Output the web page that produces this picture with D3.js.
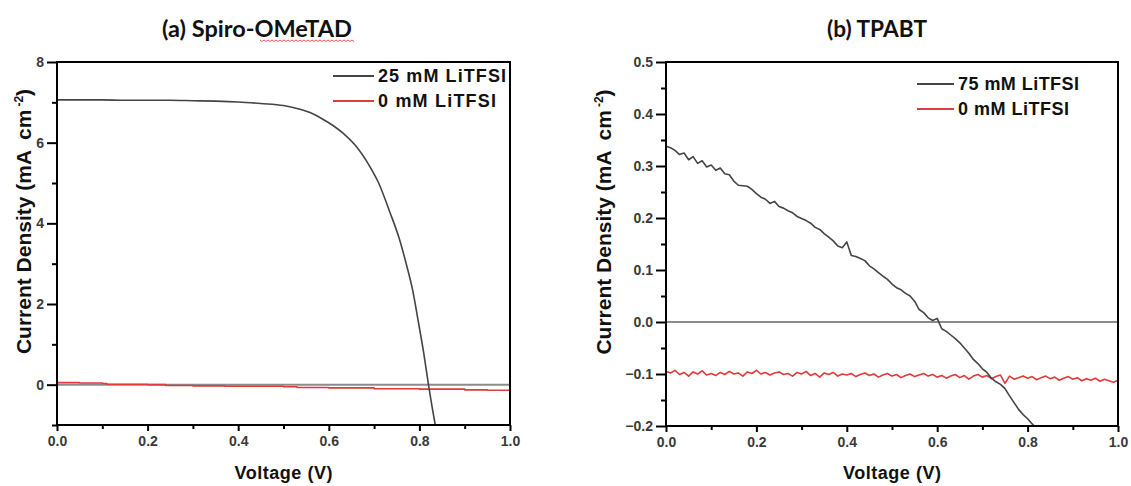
<!DOCTYPE html>
<html>
<head>
<meta charset="utf-8">
<script src="https://cdn.jsdelivr.net/npm/d3@7"></script>
<style>
  body { margin: 0; background: #fff; }
  svg { display: block; }
</style>
</head>
<body>
<svg id="chart" width="1131" height="486"></svg>
<script>
// (a) Spiro-OMeTAD
let spiroVolts25 = [0, 0.05, 0.1, 0.15, 0.2, 0.25, 0.3, 0.35, 0.4, 0.45, 0.5, 0.536, 0.56, 0.584, 0.61, 0.632,
  0.658, 0.691, 0.71, 0.735, 0.755, 0.772, 0.785, 0.797, 0.81, 0.82, 0.828, 0.835];
let spiro25 = [7.06, 7.06, 7.06, 7.05, 7.05, 7.05, 7.04, 7.03, 7.01, 6.97, 6.92, 6.83, 6.74, 6.6, 6.42, 6.23,
  5.94, 5.4, 5.0, 4.27, 3.64, 2.95, 2.35, 1.6, 0.75, 0.0, -0.55, -1.0];
let spiroVolts0 = [0, 0.05, 0.1, 0.11, 0.2, 0.24, 0.3, 0.37, 0.4, 0.5, 0.53, 0.6, 0.7, 0.75, 0.8, 0.9, 0.95, 1.0];
let spiro0 = [0.05, 0.04, 0.03, 0.01, 0.0, -0.02, -0.03, -0.04, -0.04, -0.05, -0.07, -0.08, -0.1, -0.1, -0.11,
  -0.13, -0.14, -0.14];

// (b) TPABT, one voltage list shared by both sweeps
let tpabtVolts = [0.00, 0.01, 0.02, 0.03, 0.04, 0.05, 0.06, 0.07, 0.08, 0.09,
  0.10, 0.11, 0.12, 0.13, 0.14, 0.15, 0.16, 0.17, 0.18, 0.19,
  0.20, 0.21, 0.22, 0.23, 0.24, 0.25, 0.26, 0.27, 0.28, 0.29,
  0.30, 0.31, 0.32, 0.33, 0.34, 0.35, 0.36, 0.37, 0.38, 0.39,
  0.40, 0.41, 0.42, 0.43, 0.44, 0.45, 0.46, 0.47, 0.48, 0.49,
  0.50, 0.51, 0.52, 0.53, 0.54, 0.55, 0.56, 0.57, 0.58, 0.59,
  0.60, 0.61, 0.62, 0.63, 0.64, 0.65, 0.66, 0.67, 0.68, 0.69,
  0.70, 0.71, 0.72, 0.73, 0.74, 0.75, 0.76, 0.77, 0.78, 0.79,
  0.80, 0.81, 0.82, 0.83, 0.84, 0.85, 0.86, 0.87, 0.88, 0.89,
  0.90, 0.91, 0.92, 0.93, 0.94, 0.95, 0.96, 0.97, 0.98, 0.99, 1.00];
let tpabt75 = [0.338, 0.335, 0.330, 0.322, 0.325, 0.312, 0.318, 0.305, 0.310, 0.298,
  0.302, 0.292, 0.296, 0.285, 0.283, 0.271, 0.263, 0.262, 0.261, 0.255,
  0.247, 0.240, 0.236, 0.228, 0.232, 0.222, 0.219, 0.214, 0.210, 0.203,
  0.199, 0.195, 0.190, 0.182, 0.178, 0.170, 0.163, 0.156, 0.146, 0.143,
  0.154, 0.128, 0.126, 0.122, 0.118, 0.108, 0.102, 0.095, 0.088, 0.082,
  0.073, 0.066, 0.062, 0.055, 0.050, 0.040, 0.024, 0.018, 0.008, 0.003,
  0.007, -0.013, -0.018, -0.025, -0.032, -0.040, -0.050, -0.060, -0.072, -0.080,
  -0.090, -0.097, -0.108, -0.115, -0.120, -0.128, -0.142, -0.155, -0.168, -0.178,
  -0.186, -0.196, -0.204];
let tpabt0 = [-0.095, -0.098, -0.093, -0.101, -0.097, -0.104, -0.096, -0.100, -0.094, -0.102,
  -0.099, -0.103, -0.097, -0.101, -0.095, -0.100, -0.098, -0.104, -0.096, -0.099,
  -0.093, -0.100, -0.097, -0.102, -0.098, -0.096, -0.101, -0.099, -0.104, -0.097,
  -0.100, -0.095, -0.103, -0.099, -0.106, -0.098, -0.101, -0.097, -0.104, -0.100,
  -0.102, -0.099, -0.105, -0.101, -0.098, -0.103, -0.100, -0.106, -0.102, -0.099,
  -0.104, -0.101, -0.107, -0.103, -0.100, -0.105, -0.102, -0.099, -0.104, -0.101,
  -0.106, -0.103, -0.108, -0.104, -0.101, -0.107, -0.103, -0.110, -0.104, -0.101,
  -0.106, -0.103, -0.109, -0.105, -0.102, -0.118, -0.104, -0.110, -0.107, -0.104,
  -0.108, -0.105, -0.111, -0.107, -0.104, -0.109, -0.106, -0.112, -0.108, -0.105,
  -0.110, -0.107, -0.113, -0.109, -0.112, -0.108, -0.114, -0.110, -0.113, -0.116, -0.112];

let xMajor = [0, 0.2, 0.4, 0.6, 0.8, 1.0];
let xMinor = [0.1, 0.3, 0.5, 0.7, 0.9];
let spiroYMajor = [0, 2, 4, 6, 8];
let spiroYMinor = [-1, 1, 3, 5, 7];
let tpabtYMajor = [-0.2, -0.1, 0, 0.1, 0.2, 0.3, 0.4, 0.5];
let tpabtYMinor = [-0.15, -0.05, 0.05, 0.15, 0.25, 0.35, 0.45];

(function() {
  let svg = d3.select('#chart');
  svg.append('rect').attr('width', 1131).attr('height', 486).attr('fill', '#fff');

  let panels = [
    {
      id: 'a', title: '(a) Spiro-OMeTAD', titleX: 257, titleLen: 190,
      left: 57, right: 510, top: 62, bottom: 425,
      yDomain: [-1, 8], yMajor: spiroYMajor, yMinor: spiroYMinor, yFormat: d3.format('d'),
      yTitleX: 24,
      series: [
        { label: '25 mM LiTFSI', color: '#454545', pts: spiroVolts25.map((v, i) => [v, spiro25[i]]), curve: d3.curveMonotoneX },
        { label: '0 mM LiTFSI', color: '#e03a3a', pts: spiroVolts0.map((v, i) => [v, spiro0[i]]), curve: d3.curveStepAfter }
      ],
      legendX: 333, legendLineLen: 41, legendY: 76, legendTextLen: 128
    },
    {
      id: 'b', title: '(b) TPABT', titleX: 877, titleLen: 100,
      left: 666, right: 1118, top: 62, bottom: 426,
      yDomain: [-0.2, 0.5], yMajor: tpabtYMajor, yMinor: tpabtYMinor, yFormat: d3.format('.1f'),
      yTitleX: 604,
      series: [
        { label: '75 mM LiTFSI', color: '#454545', pts: tpabt75.map((j, i) => [tpabtVolts[i], j]), curve: d3.curveLinear },
        { label: '0 mM LiTFSI', color: '#e03a3a', pts: tpabt0.map((j, i) => [tpabtVolts[i], j]), curve: d3.curveLinear }
      ],
      legendX: 917, legendLineLen: 37, legendY: 84, legendTextLen: 121
    }
  ];

  panels.forEach(drawPanel);

  function drawPanel(p) {
    let x = d3.scaleLinear().domain([0, 1]).range([p.left, p.right]);
    let y = d3.scaleLinear().domain(p.yDomain).range([p.bottom, p.top]);
    let g = svg.append('g').attr('class', 'panel-' + p.id);

    // clip curves to the frame
    g.append('clipPath').attr('id', 'clip-' + p.id)
      .append('rect')
        .attr('x', p.left).attr('y', p.top)
        .attr('width', p.right - p.left).attr('height', p.bottom - p.top);

    // zero line
    g.append('line')
      .attr('x1', p.left).attr('x2', p.right)
      .attr('y1', y(0)).attr('y2', y(0))
      .attr('stroke', '#8c8c8c')
      .attr('stroke-width', 2);

    let plot = g.append('g').attr('clip-path', `url(#clip-${p.id})`);
    p.series.slice().reverse().forEach((s) => {
      let line = d3.line().x((d) => x(d[0])).y((d) => y(d[1])).curve(s.curve);
      plot.append('path')
        .attr('d', line(s.pts))
        .attr('fill', 'none')
        .attr('stroke', s.color)
        .attr('stroke-width', 1.6)
        .attr('stroke-linejoin', 'round');
    });

    //
    // Axes
    //
    let tickFont = (sel) => sel.selectAll('text')
      .attr('font-family', '"Liberation Sans", Arial, sans-serif')
      .attr('font-weight', 'bold')
      .attr('font-size', 14)
      .attr('fill', '#3a3a3a');

    let xAxis = g.append('g')
      .attr('transform', `translate(0,${p.bottom})`)
      .call(d3.axisBottom(x).tickValues(xMajor).tickFormat(d3.format('.1f')).tickSizeInner(6).tickSizeOuter(0).tickPadding(5));
    xAxis.call(tickFont);
    g.append('g')
      .attr('transform', `translate(0,${p.bottom})`)
      .call(d3.axisBottom(x).tickValues(xMinor).tickFormat('').tickSizeInner(4).tickSizeOuter(0));

    let yAxis = g.append('g')
      .attr('transform', `translate(${p.left},0)`)
      .call(d3.axisLeft(y).tickValues(p.yMajor).tickFormat(p.yFormat).tickSizeInner(10).tickSizeOuter(0).tickPadding(3));
    yAxis.call(tickFont);
    g.append('g')
      .attr('transform', `translate(${p.left},0)`)
      .call(d3.axisLeft(y).tickValues(p.yMinor).tickFormat('').tickSizeInner(5).tickSizeOuter(0));

    g.selectAll('.domain').remove();
    g.selectAll('.tick line').attr('stroke', '#000').attr('stroke-width', 2);

    // frame
    g.append('rect')
      .attr('x', p.left).attr('y', p.top)
      .attr('width', p.right - p.left).attr('height', p.bottom - p.top)
      .attr('fill', 'none')
      .attr('stroke', '#000')
      .attr('stroke-width', 2);

    //
    // Titles
    //
    g.append('text')
      .attr('x', p.titleX).attr('y', 28)
      .attr('text-anchor', 'middle')
      .attr('dominant-baseline', 'central')
      .attr('font-family', 'Lato, "Open Sans", sans-serif')
      .attr('font-weight', 'bold')
      .attr('font-size', 22)
      .attr('fill', '#111')
      .attr('textLength', p.titleLen)
      .attr('lengthAdjust', 'spacingAndGlyphs')
      .text(p.title);

    if (p.id === 'a') {
      // spell-check squiggle under "OMeTAD"
      let squiggle = d3.path();
      squiggle.moveTo(260, 40);
      for (let sx = 260, k = 0; sx < 353; sx += 2, k++) {
        squiggle.lineTo(sx + 2, k % 2 ? 40 : 41.5);
      }
      g.append('path')
        .attr('d', squiggle.toString())
        .attr('fill', 'none')
        .attr('stroke', '#e03030')
        .attr('stroke-width', 0.8);
    }

    g.append('text')
      .attr('x', (p.left + p.right) / 2).attr('y', 473)
      .attr('text-anchor', 'middle')
      .attr('dominant-baseline', 'central')
      .attr('font-family', '"Liberation Sans", Arial, sans-serif')
      .attr('font-weight', 'bold')
      .attr('font-size', 18)
      .attr('fill', '#111')
      .attr('textLength', 98)
      .text('Voltage (V)');

    // y title, with the wide gap before "cm" like the original
    let yTitle = g.append('text')
      .attr('transform', `translate(${p.yTitleX + 7},${(p.top + p.bottom) / 2 - 22}) rotate(-90)`)
      .attr('text-anchor', 'middle')
      .attr('font-family', '"Liberation Sans", Arial, sans-serif')
      .attr('font-weight', 'bold')
      .attr('font-size', 21)
      .attr('fill', '#111');
    yTitle.append('tspan').text('Current Density (mA');
    yTitle.append('tspan').attr('dx', 10).text('cm');
    yTitle.append('tspan')
      .attr('font-size', 12)
      .attr('dx', 3)
      .attr('baseline-shift', '70%')
      .text('-2');
    yTitle.append('tspan').text(')');

    //
    // Legend
    //
    let legend = g.append('g').attr('class', 'legend');
    p.series.forEach((s, i) => {
      let ly = p.legendY + i * 25;
      legend.append('line')
        .attr('x1', p.legendX).attr('x2', p.legendX + p.legendLineLen)
        .attr('y1', ly).attr('y2', ly)
        .attr('stroke', s.color)
        .attr('stroke-width', 2);
      let t = legend.append('text')
        .attr('x', p.legendX + p.legendLineLen + 4).attr('y', ly)
        .attr('dominant-baseline', 'central')
        .attr('font-family', '"Liberation Sans Narrow", "Liberation Sans", Arial, sans-serif')
        .attr('font-weight', 'bold')
        .attr('font-size', 18)
        .attr('fill', '#111')
        .text(s.label);
      let len = p.legendTextLen - (i ? 10 : 0);
      t.attr('textLength', len).attr('lengthAdjust', 'spacing');
    });
  }
})();
</script>
</body>
</html>
